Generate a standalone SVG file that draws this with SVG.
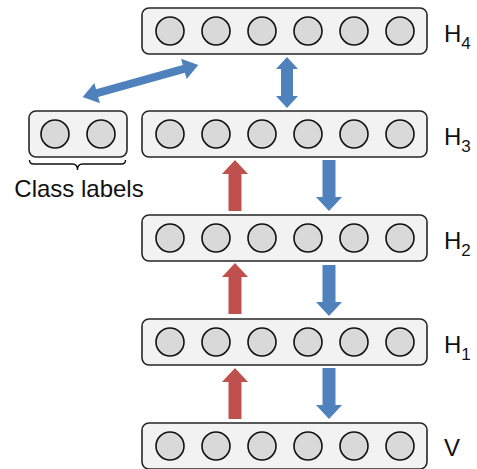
<svg xmlns="http://www.w3.org/2000/svg" width="477" height="469" viewBox="0 0 477 469">
<style>
.box{fill:#f2f2f2;stroke:#262626;stroke-width:1.6}
.unit{fill:#d9d9d9;stroke:#111;stroke-width:1.6}
.lbl{font-family:"Liberation Sans",Arial,sans-serif;font-size:24px;fill:#111}
.sub{font-size:17px}
.red{fill:#c0504d}
.blue{fill:#4f81bd}
</style>
<defs>
<g id="row6">
<rect class="box" x="142" y="-23" width="285" height="46" rx="7"/>
<circle class="unit" cx="170" cy="0" r="14"/>
<circle class="unit" cx="216" cy="0" r="14"/>
<circle class="unit" cx="262" cy="0" r="14"/>
<circle class="unit" cx="308" cy="0" r="14"/>
<circle class="unit" cx="354" cy="0" r="14"/>
<circle class="unit" cx="400" cy="0" r="14"/>
</g>
<polygon id="up" points="0,0 13,14 6.5,14 6.5,51 -6.5,51 -6.5,14 -13,14"/>
</defs>
<g id="H4"><use href="#row6" transform="translate(0,31)"/><text class="lbl" x="444" y="42">H<tspan class="sub" dy="7">4</tspan></text></g>
<g id="H3"><use href="#row6" transform="translate(0,134)"/><text class="lbl" x="444" y="145">H<tspan class="sub" dy="7">3</tspan></text></g>
<g id="H2"><use href="#row6" transform="translate(0,238)"/><text class="lbl" x="444" y="249">H<tspan class="sub" dy="7">2</tspan></text></g>
<g id="H1"><use href="#row6" transform="translate(0,342)"/><text class="lbl" x="444" y="353">H<tspan class="sub" dy="7">1</tspan></text></g>
<g id="V"><use href="#row6" transform="translate(0,446)"/><text class="lbl" x="444" y="456">V</text></g>
<g id="class-labels">
<rect class="box" x="29" y="111" width="98" height="46" rx="7"/>
<circle class="unit" cx="55" cy="134" r="14"/>
<circle class="unit" cx="101" cy="134" r="14"/>
<path d="M29.5,160 q0,4 4,4 h39 q5,0 5,6 q0,-6 5,-6 h39 q4,0 4,-4" fill="none" stroke="#111" stroke-width="1.4"/>
<text class="lbl" x="79" y="197" text-anchor="middle">Class labels</text>
</g>
<g id="connectors">
<g transform="translate(140.5,81) rotate(-15.5)"><polygon class="blue" points="-60,0 -45,-10.5 -45,-4 45,-4 45,-10.5 60,0 45,10.5 45,4 -45,4 -45,10.5"/></g>
<polygon class="blue" points="287,57 298,69 293,69 293,96 298,96 287,108 276,96 281,96 281,69 276,69"/>
<use class="red" href="#up" transform="translate(235,160)"/>
<use class="red" href="#up" transform="translate(235,263)"/>
<use class="red" href="#up" transform="translate(235,368)"/>
<use class="blue" href="#up" transform="translate(329,211) rotate(180)"/>
<use class="blue" href="#up" transform="translate(329,316) rotate(180)"/>
<use class="blue" href="#up" transform="translate(329,419) rotate(180)"/>
</g>
</svg>
